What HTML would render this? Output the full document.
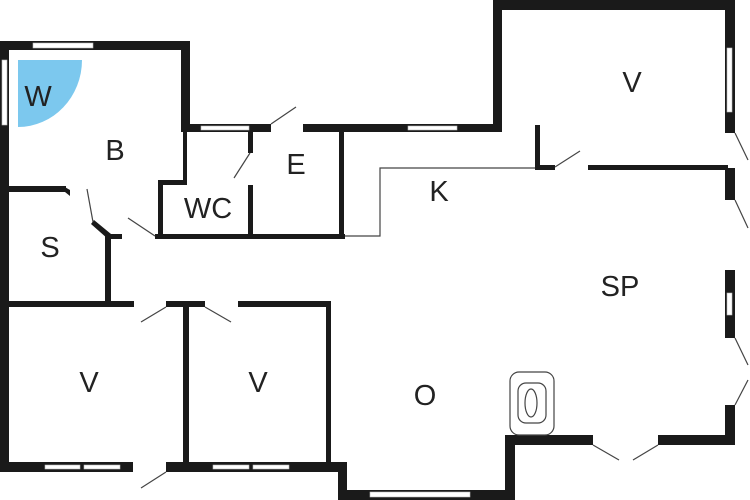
<!DOCTYPE html>
<html><head><style>html,body{margin:0;padding:0;background:#fff}svg{display:block}text{font-family:"Liberation Sans",sans-serif;font-size:29px;fill:#222;text-anchor:middle}</style></head><body>
<svg width="750" height="500" viewBox="0 0 750 500" xmlns="http://www.w3.org/2000/svg">
<rect width="750" height="500" fill="#fff"/>
<path d="M18,60 L82,60 A64,67 0 0 1 18,127 Z" fill="#7cc8ee"/>
<g fill="#1a1a1a">
<!-- left block -->
<rect x="0" y="41" width="190" height="9"/>
<rect x="0" y="41" width="9" height="430"/>
<rect x="181" y="41" width="9" height="91"/>
<rect x="181" y="124" width="320" height="8"/>
<!-- top right block -->
<rect x="493" y="0" width="9" height="132"/>
<rect x="493" y="0" width="242" height="10"/>
<rect x="725" y="0" width="10" height="133"/>
<rect x="725" y="168" width="10" height="32"/>
<rect x="725" y="270" width="10" height="68"/>
<rect x="725" y="405" width="10" height="40"/>
<rect x="535" y="125" width="5" height="45"/>
<rect x="535" y="165" width="20" height="5"/>
<rect x="588" y="165" width="140" height="5"/>
<!-- bottom right -->
<rect x="505" y="435" width="88" height="10"/>
<rect x="658" y="435" width="77" height="10"/>
<rect x="505" y="435" width="10" height="65"/>
<rect x="338" y="490" width="177" height="10"/>
<rect x="338" y="463" width="9" height="37"/>
<!-- V rooms -->
<rect x="0" y="462" width="347" height="10"/>
<rect x="9" y="301" width="125" height="6"/>
<rect x="166" y="301" width="39" height="6"/>
<rect x="238" y="301" width="93" height="6"/>
<rect x="183" y="301" width="6" height="165"/>
<rect x="326" y="301" width="5" height="165"/>
<!-- S -->
<rect x="9" y="186" width="57" height="6"/>
<polygon points="63,186 70,190 70,196 65,192"/>
<polygon points="94,220 111,234 108,239 91,224"/>
<rect x="105" y="234" width="6" height="70"/>
<rect x="105" y="234" width="17" height="5"/>
<rect x="155" y="234" width="190" height="5"/>
<!-- WC / E -->
<rect x="158" y="180" width="5" height="59"/>
<rect x="158" y="180" width="28" height="5"/>
<rect x="183" y="131" width="4" height="54"/>
<rect x="248" y="131" width="5" height="22"/>
<rect x="248" y="185" width="5" height="54"/>
<rect x="339" y="131" width="5" height="108"/>
</g>
<!-- gaps/windows (white) -->
<g fill="#fff" stroke="#bbb" stroke-width="0.6">
<rect x="33" y="43" width="60" height="5"/>
<rect x="2" y="60" width="5" height="65"/>
<rect x="201" y="126" width="48" height="4"/>
<rect x="271" y="124" width="32" height="8" stroke="none"/>
<rect x="408" y="126" width="49" height="4"/>
<rect x="727" y="48" width="5" height="64"/>
<rect x="727" y="293" width="5" height="22"/>
<rect x="45" y="465" width="35" height="4"/>
<rect x="84" y="465" width="36" height="4"/>
<rect x="213" y="465" width="36" height="4"/>
<rect x="253" y="465" width="36" height="4"/>
<rect x="133" y="462" width="33" height="10" stroke="none"/>
<rect x="370" y="492" width="100" height="5"/>
</g>
<g stroke="#444" stroke-width="1.2" fill="none">
<path d="M345,236 H380 V168 H535"/>
<rect x="510" y="372" width="44" height="63" rx="9"/>
<rect x="518" y="383" width="28" height="40" rx="8"/>
<ellipse cx="531" cy="403" rx="6" ry="14"/>
<line x1="271" y1="124" x2="296" y2="107"/>
<line x1="250" y1="153" x2="234" y2="178"/>
<line x1="93" y1="222" x2="87" y2="189"/>
<line x1="155" y1="236" x2="128" y2="218"/>
<line x1="166" y1="307" x2="141" y2="322"/>
<line x1="205" y1="307" x2="231" y2="322"/>
<line x1="166" y1="472" x2="141" y2="488"/>
<line x1="555" y1="167" x2="580" y2="151"/>
<line x1="593" y1="445" x2="619" y2="460"/>
<line x1="658" y1="445" x2="633" y2="460"/>
<line x1="735" y1="133" x2="748" y2="160"/>
<line x1="735" y1="200" x2="748" y2="228"/>
<line x1="735" y1="338" x2="748" y2="365"/>
<line x1="735" y1="405" x2="748" y2="380"/>
</g>
<text x="38" y="106">W</text>
<text x="115" y="160">B</text>
<text x="208" y="218">WC</text>
<text x="296" y="174">E</text>
<text x="50" y="257">S</text>
<text x="439" y="201">K</text>
<text x="632" y="92">V</text>
<text x="620" y="296">SP</text>
<text x="89" y="392">V</text>
<text x="258" y="392">V</text>
<text x="425" y="405">O</text>
</svg>
</body></html>
